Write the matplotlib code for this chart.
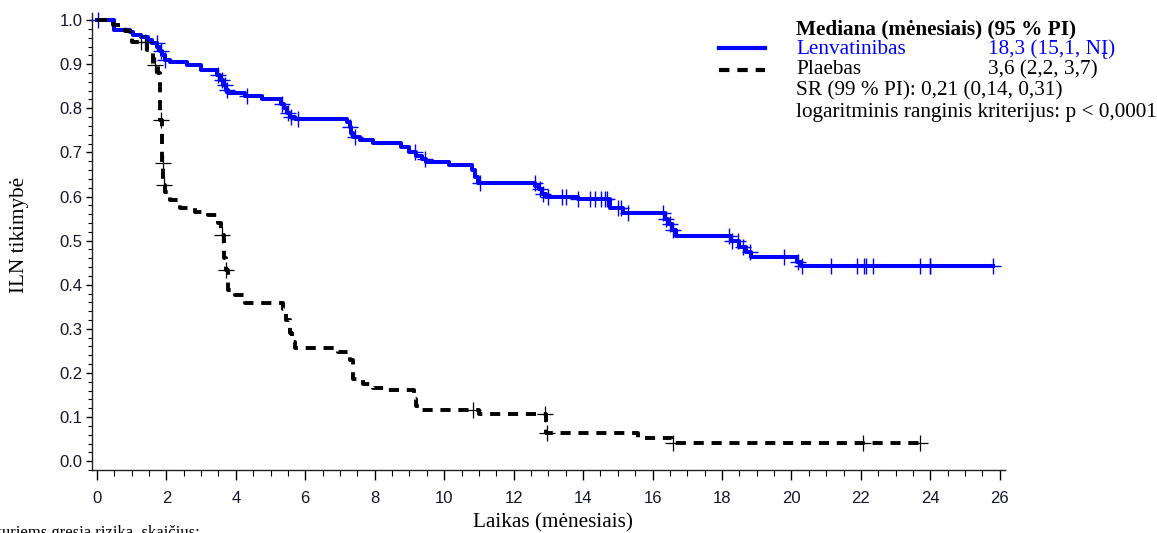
import numpy as np
import matplotlib
matplotlib.use("Agg")
import matplotlib.pyplot as plt
from matplotlib.lines import Line2D
from matplotlib.ticker import MultipleLocator

# Kaplan-Meier steps (time in months, survival)
lenva_t = [0, 0.5, 0.95, 1.04, 1.28, 1.47, 1.6, 1.73, 1.81, 1.87, 1.96, 2.1, 2.6, 3.0,
           3.45, 3.54, 3.63, 3.73, 3.78, 4.26, 4.76, 5.3, 5.38, 5.47, 5.55, 5.7, 7.2,
           7.28, 7.33, 7.38, 7.57, 7.95, 8.77, 9.0, 9.2, 9.35, 9.49, 10.15, 10.8, 10.88,
           10.97, 12.62, 12.72, 12.82, 12.93, 13.85, 14.77, 15.15, 16.35, 16.45, 16.55,
           16.69, 18.25, 18.5, 18.7, 18.85, 20.15, 20.29, 25.8]
lenva_s = [1.0, 0.977, 0.972, 0.967, 0.962, 0.955, 0.947, 0.94, 0.93, 0.92, 0.91, 0.904,
           0.897, 0.887, 0.876, 0.864, 0.853, 0.841, 0.834, 0.828, 0.821, 0.81, 0.80,
           0.789, 0.781, 0.776, 0.768, 0.758, 0.745, 0.735, 0.728, 0.722, 0.713, 0.70,
           0.692, 0.686, 0.679, 0.671, 0.66, 0.645, 0.63, 0.624, 0.617, 0.606, 0.599,
           0.594, 0.573, 0.563, 0.55, 0.537, 0.524, 0.511, 0.50, 0.486, 0.474, 0.463,
           0.452, 0.442, 0.442]
lenva_cens = [0.03, 1.72, 1.86, 1.96, 3.49, 3.59, 3.69, 3.75, 4.31, 5.32, 5.5, 5.6, 5.79,
              7.28, 7.43, 9.16, 9.45, 11.03, 12.61, 12.75, 12.85, 13.0, 13.38, 13.52,
              13.86, 14.2, 14.34, 14.53, 14.63, 14.7, 15.0, 15.1, 15.3, 16.3, 16.4, 16.5,
              16.6, 18.2, 18.3, 18.45, 18.6, 18.8, 19.8, 20.2, 20.3, 21.15, 21.9, 22.1,
              22.15, 22.35, 23.7, 23.98, 24.0, 25.8]

plac_t = [0, 0.47, 0.8, 1.0, 1.43, 1.62, 1.77, 1.82, 1.87, 1.91, 1.95, 2.1, 2.39, 2.82,
          3.2, 3.49, 3.58, 3.67, 3.71, 3.78, 3.98, 4.26, 5.37, 5.45, 5.55, 5.62, 5.7,
          6.95, 7.3, 7.37, 7.67, 7.95, 8.34, 9.12, 9.2, 9.3, 11.0, 12.93, 15.58, 16.55,
          23.7]
plac_s = [1.0, 0.989, 0.975, 0.951, 0.932, 0.898, 0.879, 0.773, 0.675, 0.626, 0.61,
          0.592, 0.575, 0.565, 0.559, 0.54, 0.512, 0.46, 0.433, 0.388, 0.376, 0.359,
          0.345, 0.32, 0.29, 0.27, 0.256, 0.248, 0.23, 0.187, 0.176, 0.167, 0.161, 0.14,
          0.125, 0.116, 0.107, 0.064, 0.053, 0.041, 0.041]
plac_cens = [1.28, 1.38, 1.67, 1.86, 1.9, 1.93, 3.6, 3.71, 10.84, 12.9, 12.95, 16.6,
             22.05, 23.7]

x_ticks = list(range(0, 27, 2))
y_ticks = [0.0, 0.1, 0.2, 0.3, 0.4, 0.5, 0.6, 0.7, 0.8, 0.9, 1.0]

BLUE = "#0000ff"
W, H = 1157, 533


def at(times, surv, pts):
    # survival value at censoring times (step function)
    idx = np.searchsorted(times, pts, side="right") - 1
    return np.asarray(surv)[idx]


fig = plt.figure(figsize=(W / 100, H / 100), dpi=100)
ax = fig.add_axes([92 / W, 1 - 470 / H, (1005 - 92) / W, (470 - 13) / H])

ax.plot(lenva_t, lenva_s, drawstyle="steps-post", color=BLUE, lw=2.9)
ax.plot(lenva_cens, at(lenva_t, lenva_s, lenva_cens), ls="none", marker="+",
        ms=11, mew=1.0, color=BLUE, clip_on=False)

ax.plot(plac_t, plac_s, drawstyle="steps-post", color="black", lw=2.8,
        dashes=(2.6, 2.0))
ax.plot(plac_cens, at(plac_t, plac_s, plac_cens), ls="none", marker="+",
        ms=12, mew=0.9, color="black", clip_on=False)

ax.set_xlim(-0.14, 26.15)
ax.set_ylim(-0.02, 1.016)
ax.set_xticks(x_ticks)
ax.set_yticks(y_ticks)
ax.set_yticklabels([f"{v:.1f}" for v in y_ticks])
ax.xaxis.set_minor_locator(MultipleLocator(0.5))
ax.yaxis.set_minor_locator(MultipleLocator(0.02))

for s in ["top", "right"]:
    ax.spines[s].set_visible(False)
for s in ["left", "bottom"]:
    ax.spines[s].set_color("#222222")
    ax.spines[s].set_linewidth(1.0)

tick_font = ["Liberation Sans", "DejaVu Sans"]
ax.tick_params(axis="x", which="major", length=7, width=1, pad=8, labelsize=12)
ax.tick_params(axis="x", which="minor", length=4, width=0.8)
ax.tick_params(axis="y", which="major", length=4, width=1, pad=3, labelsize=12)
ax.tick_params(axis="y", which="minor", length=3, width=0.8)
for lab in ax.get_xticklabels() + ax.get_yticklabels():
    lab.set_family(tick_font)
    lab.set_color("#15152a")

serif = "Liberation Serif"
fs = 15.3
fig.text(553 / W, 1 - 523 / H, "Laikas (mėnesiais)", ha="center", va="center",
         family=serif, fontsize=fs)
fig.text(20 / W, 1 - 235 / H, "ILN tikimybė", ha="center", va="center",
         rotation=90, family=serif, fontsize=fs)
fig.text(200 / W, 1 - 525 / H, "Pacientų, kuriems gresia rizika, skaičius:",
         ha="right", va="top", family=serif, fontsize=12)

# legend block, top right
fig.text(796 / W, 1 - 29 / H, "Mediana (mėnesiais) (95 % PI)", ha="left",
         va="center", family=serif, fontsize=fs, weight="bold")
fig.text(796 / W, 1 - 49 / H, "Lenvatinibas", ha="left", va="center",
         family=serif, fontsize=fs, color=BLUE)
fig.text(988 / W, 1 - 49 / H, "18,3 (15,1, NĮ)", ha="left", va="center",
         family=serif, fontsize=fs, color=BLUE)
fig.text(796 / W, 1 - 70 / H, "Plaebas", ha="left", va="center",
         family=serif, fontsize=fs)
fig.text(988 / W, 1 - 70 / H, "3,6 (2,2, 3,7)", ha="left", va="center",
         family=serif, fontsize=fs)
fig.text(796 / W, 1 - 91 / H, "SR (99 % PI): 0,21 (0,14, 0,31)", ha="left",
         va="center", family=serif, fontsize=fs)
fig.text(796 / W, 1 - 113 / H, "logaritminis ranginis kriterijus: p < 0,0001",
         ha="left", va="center", family=serif, fontsize=fs)

fig.add_artist(Line2D([719 / W, 765 / W], [1 - 48 / H, 1 - 48 / H],
                      color=BLUE, lw=3.0, transform=fig.transFigure))
fig.add_artist(Line2D([719 / W, 765 / W], [1 - 70 / H, 1 - 70 / H],
                      color="black", lw=3.0, dashes=(2.5, 1.9),
                      transform=fig.transFigure))

fig.savefig("out.png", dpi=100)
